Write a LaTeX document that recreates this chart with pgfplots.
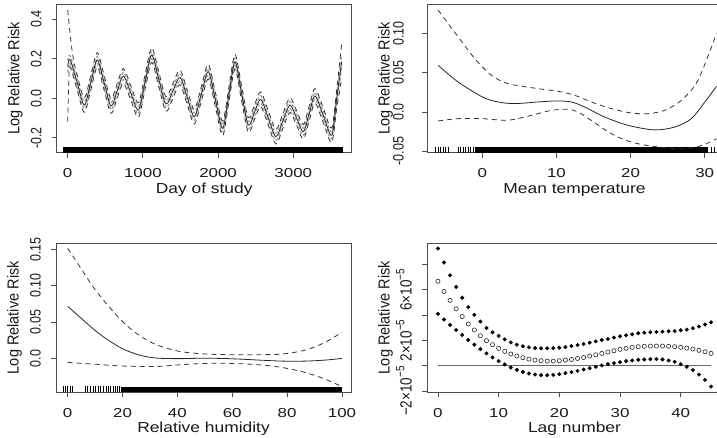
\documentclass[border=0pt]{standalone}
\usepackage{pgfplots}
\pgfplotsset{compat=1.18}
\usepackage{pgfplotstable}
\usepackage{graphicx}
\usepackage{fontspec}
\setmainfont{Liberation Sans}
\newfontfamily\tickfont{Liberation Sans}[FakeStretch=1.3]
\newfontfamily\labfont{Liberation Sans}[FakeStretch=1.2]
\newcommand\vs[1]{\scalebox{1}[1.2]{#1}}
\newcommand\sexp[1]{\raisebox{0.45em}{\fontsize{10bp}{11bp}\selectfont #1}}
\definecolor{ink}{gray}{0.1}
\definecolor{frame}{gray}{0.3}

% Panel 1: day of study
\pgfplotstableread{
d c hi lo
0 0.160 0.190 0.130
31 0.197 0.215 0.179
126 0.080 0.098 0.062
221 -0.034 -0.016 -0.052
308 0.080 0.098 0.062
394 0.194 0.212 0.176
485 0.078 0.096 0.060
576 -0.039 -0.021 -0.057
658 0.037 0.055 0.019
740 0.113 0.131 0.095
840 0.027 0.045 0.009
940 -0.059 -0.041 -0.077
1028 0.080 0.098 0.062
1117 0.219 0.237 0.201
1212 0.095 0.113 0.077
1307 -0.029 -0.011 -0.047
1400 0.038 0.056 0.020
1494 0.106 0.124 0.088
1589 0.006 0.024 -0.012
1684 -0.093 -0.075 -0.111
1777 0.021 0.039 0.003
1870 0.135 0.153 0.117
1965 -0.008 0.010 -0.026
2061 -0.152 -0.134 -0.170
2143 0.016 0.034 -0.002
2225 0.185 0.203 0.167
2313 0.025 0.043 0.007
2402 -0.135 -0.117 -0.153
2485 -0.070 -0.052 -0.088
2567 -0.005 0.013 -0.023
2668 -0.100 -0.082 -0.118
2770 -0.194 -0.176 -0.212
2863 -0.114 -0.096 -0.132
2957 -0.034 -0.016 -0.052
3045 -0.100 -0.082 -0.118
3134 -0.169 -0.151 -0.187
3211 -0.078 -0.060 -0.096
3289 0.012 0.030 -0.006
3400 -0.087 -0.069 -0.105
3511 -0.186 -0.168 -0.204
3578 0.000 0.020 -0.020
3644 0.185 0.215 0.155
}\dayC
\pgfplotstableread{
d v
0 0.447
40 0.300
75 0.200
126 0.117
221 0.003
308 0.117
394 0.231
485 0.115
576 -0.002
658 0.074
740 0.150
840 0.064
940 -0.022
1028 0.117
1117 0.256
1212 0.132
1307 0.008
1400 0.075
1494 0.143
1589 0.043
1684 -0.056
1777 0.058
1870 0.172
1965 0.029
2061 -0.115
2143 0.053
2225 0.222
2313 0.062
2402 -0.098
2485 -0.033
2567 0.032
2668 -0.063
2770 -0.157
2863 -0.077
2957 0.003
3045 -0.063
3134 -0.132
3211 -0.041
3289 0.049
3400 -0.050
3511 -0.149
3578 0.045
3644 0.278
}\dayHi
\pgfplotstableread{
d v
0 -0.118
15 0.090
31 0.160
126 0.043
221 -0.071
308 0.043
394 0.157
485 0.041
576 -0.076
658 0.000
740 0.076
840 -0.010
940 -0.096
1028 0.043
1117 0.182
1212 0.058
1307 -0.066
1400 0.001
1494 0.069
1589 -0.031
1684 -0.130
1777 -0.016
1870 0.098
1965 -0.045
2061 -0.189
2143 -0.021
2225 0.148
2313 -0.012
2402 -0.172
2485 -0.107
2567 -0.042
2668 -0.137
2770 -0.231
2863 -0.151
2957 -0.071
3045 -0.137
3134 -0.206
3211 -0.115
3289 -0.025
3400 -0.124
3511 -0.223
3578 -0.050
3644 0.100
}\dayLo

% Panel 4: lag
\pgfplotstableread{
lag up mid lo
0 9.27 6.68 4.11
1 8.16 5.88 3.66
2 7.15 5.17 3.23
3 6.23 4.50 2.83
4 5.38 3.89 2.44
5 4.64 3.31 2.04
6 4.03 2.83 1.67
7 3.50 2.38 1.32
8 2.99 1.99 0.98
9 2.65 1.67 0.66
10 2.36 1.38 0.37
11 2.09 1.14 0.11
12 1.85 0.93 -0.13
13 1.67 0.77 -0.32
14 1.54 0.64 -0.48
15 1.46 0.53 -0.61
16 1.40 0.45 -0.69
17 1.38 0.40 -0.74
18 1.38 0.37 -0.74
19 1.40 0.37 -0.72
20 1.43 0.40 -0.66
21 1.48 0.45 -0.58
22 1.56 0.50 -0.50
23 1.64 0.58 -0.40
24 1.72 0.66 -0.29
25 1.83 0.77 -0.19
26 1.93 0.87 -0.08
27 2.04 0.98 0.03
28 2.12 1.09 0.13
29 2.23 1.19 0.21
30 2.33 1.30 0.29
31 2.41 1.38 0.37
32 2.49 1.46 0.42
33 2.57 1.51 0.48
34 2.62 1.54 0.50
35 2.65 1.56 0.53
36 2.68 1.56 0.53
37 2.70 1.56 0.50
38 2.73 1.54 0.42
39 2.75 1.51 0.32
40 2.81 1.46 0.13
41 2.86 1.40 -0.08
42 2.97 1.32 -0.34
43 3.10 1.22 -0.69
44 3.26 1.11 -1.11
45 3.44 0.98 -1.64
}\lagT

\pgfplotsset{
  rplot/.style={
    scale only axis, width=295bp, height=148.7bp,
    axis line style={frame, line width=0.8bp},
    tick style={frame, line width=0.8bp},
    tick align=outside, major tick length=5bp,
    xtick pos=bottom, ytick pos=left,
    xticklabel style={font=\tickfont\fontsize{13bp}{15bp}\selectfont, text=ink, anchor=north, inner sep=0pt},
    xticklabel shift=11bp,
    yticklabel style={font=\fontsize{12.5bp}{14bp}\selectfont, text=ink, rotate=90, anchor=south, inner sep=0pt},
    yticklabel shift=10bp,
    every axis x label/.style={at={(axis description cs:0.5,0)}, anchor=base, font=\labfont\fontsize{14.5bp}{16bp}\selectfont, text=ink, inner sep=0pt, yshift=-40.6bp},
    every axis y label/.style={at={(axis description cs:-0.1407,0.5)}, anchor=center, rotate=90, font=\fontsize{14.5bp}{16bp}\selectfont, text=ink, inner sep=0pt},
    ylabel={\scalebox{1}[1.1]{Log Relative Risk}},
  },
  ctr/.style={black!85, line width=0.8bp, smooth},
  band/.style={black!80, line width=0.8bp, smooth, dash pattern=on 5bp off 4bp},
  rug/.style={only marks, mark=|, mark size=3bp, mark options={black, line width=0.5bp}},
}

\begin{document}
\begin{tikzpicture}
\useasboundingbox (0,0) rectangle (717bp,-438bp);
\clip (0,0) rectangle (717bp,-438bp);

% ---------- Panel 1 ----------
\begin{axis}[rplot, at={(56.7bp,-4bp)}, anchor=north west,
  xmin=-146, xmax=3777, ymin=-0.275, ymax=0.477,
  xtick={0,1000,2000,3000}, xticklabels={0,1000,2000,3000},
  ytick={-0.2,0,0.2,0.4}, yticklabels={\vs{-0.2},\vs{0.0},\vs{0.2},\vs{0.4}},
  xlabel={Day of study}]
\addplot[fill=black, draw=none] coordinates {(-60,-0.275) (3660,-0.275) (3660,-0.245) (-60,-0.245)} -- cycle;
\addplot[gray!70, line width=1.4bp, smooth, dash pattern=on 3bp off 2bp] table[x=d, y=hi] {\dayC};
\addplot[gray!70, line width=1.4bp, smooth, dash pattern=on 3bp off 2bp] table[x=d, y=lo] {\dayC};
\addplot[band] table[x=d, y=v] {\dayHi};
\addplot[band] table[x=d, y=v] {\dayLo};
\addplot[ctr] table[x=d, y=c] {\dayC};
\end{axis}

% ---------- Panel 2 ----------
\begin{axis}[rplot, at={(427bp,-4bp)}, anchor=north west,
  xmin=-7.47, xmax=32.34, ymin=-0.0519, ymax=0.1377,
  xtick={0,10,20,30}, xticklabels={0,10,20,30},
  ytick={-0.05,0,0.05,0.1}, yticklabels={\vs{-0.05},\vs{0.0},\vs{0.05},\vs{0.10}},
  yticklabel shift=18bp,
  xlabel={Mean temperature}]
\addplot[fill=black, draw=none] coordinates {(-1.0,-0.0519) (30.5,-0.0519) (30.5,-0.0442) (-1.0,-0.0442)} -- cycle;
\addplot[rug] coordinates {(-6.34,-0.048) (-5.98,-0.048) (-5.62,-0.048) (-5.31,-0.048) (-4.99,-0.048) (-4.63,-0.048) (-3.28,-0.048) (-2.92,-0.048) (-2.61,-0.048) (-2.29,-0.048) (-1.93,-0.048) (-1.62,-0.048) (-1.26,-0.048) (30.9,-0.048) (31.3,-0.048)};
\addplot[band] coordinates {(-5.98,0.130) (-3.28,0.0959) (-1.03,0.0682) (1.21,0.0469) (3.46,0.0362) (7.5,0.0298) (10.2,0.0264) (12.46,0.0213) (14.7,0.0128) (17.4,0.0043) (20.1,-0.0013) (22.36,-0.0021) (24.6,0.0021) (26.86,0.0149) (29.1,0.0405) (31.6,0.1001)};
\addplot[band] coordinates {(-5.98,-0.0115) (-3.28,-0.0085) (0,-0.0085) (3.46,-0.0105) (6.6,-0.0043) (9.3,0.0021) (11.56,0.0034) (12.9,0.0) (14.7,-0.0107) (17.4,-0.0277) (20.1,-0.0383) (22.8,-0.0435) (25.96,-0.0469) (28.2,-0.046) (30.0,-0.0413) (31.6,-0.0341)};
\addplot[ctr] coordinates {(-5.98,0.0596) (-3.28,0.0383) (0,0.0192) (2.11,0.0128) (4.36,0.0107) (7.5,0.0128) (10,0.0141) (12.0,0.0128) (13.8,0.0064) (16.5,-0.0064) (19.66,-0.017) (23.2,-0.0228) (25.96,-0.0192) (28.2,-0.0085) (30.2,0.0149) (31.6,0.0328)};
\end{axis}

% ---------- Panel 3 ----------
\begin{axis}[rplot, at={(56bp,-243.3bp)}, anchor=north west,
  xmin=-4.25, xmax=103.3, ymin=-0.0462, ymax=0.1583,
  xtick={0,20,40,60,80,100}, xticklabels={0,20,40,60,80,100},
  ytick={0,0.05,0.1,0.15}, yticklabels={\vs{0.0},\vs{0.05},\vs{0.10},\vs{0.15}},
  xlabel={Relative humidity}]
\addplot[fill=black, draw=none] coordinates {(19.6,-0.0462) (100,-0.0462) (100,-0.0388) (19.6,-0.0388)} -- cycle;
\addplot[rug] coordinates {(-1.5,-0.0425) (-0.8,-0.0425) (0,-0.0425) (1.0,-0.0425) (1.8,-0.0425) (6.3,-0.0425) (7.1,-0.0425) (8.1,-0.0425) (9.3,-0.0425) (10.2,-0.0425) (11.1,-0.0425) (12.0,-0.0425) (12.9,-0.0425) (13.9,-0.0425) (14.8,-0.0425) (15.7,-0.0425) (16.6,-0.0425) (17.4,-0.0425) (18.0,-0.0425) (18.7,-0.0425)};
\addplot[band] coordinates {(0,0.1514) (4.47,0.1260) (9.31,0.0983) (14.15,0.0753) (20.2,0.0499) (26.2,0.0314) (32.3,0.0189) (40.7,0.0097) (50.4,0.0060) (60.0,0.0051) (69.7,0.0051) (78.2,0.0060) (86.7,0.0115) (93.9,0.0222) (100,0.0360)};
\addplot[band] coordinates {(0,-0.0055) (9.31,-0.0078) (20.2,-0.0105) (32.3,-0.0111) (40.7,-0.0088) (50.4,-0.0069) (60.0,-0.0069) (69.7,-0.0088) (78.2,-0.0125) (86.7,-0.0194) (93.9,-0.0286) (100,-0.0388)};
\addplot[ctr] coordinates {(0,0.0716) (4.47,0.0568) (9.31,0.0406) (14.15,0.0268) (20.2,0.0129) (26.2,0.0046) (32.3,0.0005) (40.7,-0.0003) (50.4,0.0003) (60.0,-0.0005) (69.7,-0.0023) (78.2,-0.0037) (86.7,-0.0037) (93.9,-0.0023) (100,0.0)};
\end{axis}

% ---------- Panel 4 ----------
\begin{axis}[rplot, at={(427bp,-243.3bp)}, anchor=north west,
  xmin=-1.8, xmax=46.8, ymin=-2.07, ymax=9.68,
  xtick={0,10,20,30,40}, xticklabels={0,10,20,30,40},
  ytick={-2,0,2,4,6,8},
  yticklabel style={font=\fontsize{13.5bp}{15bp}\selectfont},
  yticklabels={\vs{−2×10\sexp{−5}},,\vs{2×10\sexp{−5}},,\vs{6×10\sexp{−5}},},
  xlabel={Lag number}]
\addplot[gray!80!black, line width=0.7bp] coordinates {(0,0) (45,0)};
\addplot[only marks, mark=*, mark size=1.8bp, mark options={black, fill=black}] table[x=lag, y=up] {\lagT};
\addplot[only marks, mark=o, mark size=2.1bp, mark options={black!85, line width=0.6bp}] table[x=lag, y=mid] {\lagT};
\addplot[only marks, mark=*, mark size=1.8bp, mark options={black, fill=black}] table[x=lag, y=lo] {\lagT};
\end{axis}
\end{tikzpicture}
\end{document}
